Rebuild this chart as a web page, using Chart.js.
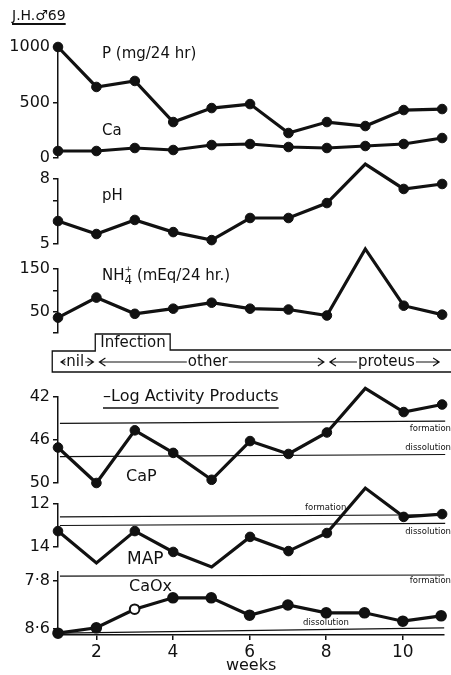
<!DOCTYPE html>
<html>
<head>
<meta charset="utf-8">
<script src="https://cdn.jsdelivr.net/npm/chart.js@4.4.0/dist/chart.umd.min.js"></script>
<style>
  html, body { margin: 0; padding: 0; background: #fff; }
  #wrap { position: relative; width: 451px; height: 675px; overflow: hidden; }
  canvas { position: absolute; left: 0; top: 0; }
  #title { position: absolute; left: 12px; top: 7px; font: 14px "DejaVu Sans"; color: #111;
           text-decoration: underline; text-decoration-thickness: 1.5px; text-underline-offset: 3px; }
</style>
</head>
<body>
<div id="wrap">
  <canvas id="cP" width="451" height="675"></canvas>
  <canvas id="cPH" width="451" height="675"></canvas>
  <canvas id="cNH" width="451" height="675"></canvas>
  <canvas id="cCaP" width="451" height="675"></canvas>
  <canvas id="cMAP" width="451" height="675"></canvas>
  <canvas id="cOx" width="451" height="675"></canvas>
  <div id="title">J.H.♂69</div>
</div>
<script>
// weeks of observation
var weeks = [1, 2, 3, 4, 5, 6, 7, 8, 9, 10, 11];

// urine values
var phosphorus = [1000, 640, 694, 324, 450, 486, 225, 324, 288, 432, 441];   // mg/24 hr
var calcium    = [63, 63, 90, 72, 117, 126, 99, 90, 108, 126, 180];
var urinePH    = [6.06, 5.46, 6.11, 5.55, 5.18, 6.2, 6.2, 6.89, 8.69, 7.54, 7.77];
var ammonium   = [36, 83, 45, 57, 71, 57, 55, 41, 197, 64, 43];              // mEq/24 hr

// -log activity products
var logCaP  = [46.7, 50.0, 45.1, 47.2, 49.7, 46.1, 47.3, 45.3, 41.2, 43.4, 42.7];
var logMAP  = [13.26, 14.74, 13.26, 14.23, 14.93, 13.53, 14.19, 13.35, 11.26, 12.6, 12.47];
var logCaOx = [8.67, 8.58, 8.27, 8.08, 8.08, 8.37, 8.2, 8.33, 8.33, 8.47, 8.38];

// formation / dissolution limits (left end, right end)
var capFormation   = [44.45, 44.25];
var capDissolution = [47.55, 47.35];
var mapFormation   = [12.6, 12.5];
var mapDissolution = [13.0, 12.9];
var oxFormation    = [7.72, 7.7];
var oxDissolution  = [8.67, 8.58];

// tick labels
var xTicks = [2, 4, 6, 8, 10];

var X_MIN = 1, X_MAX = 11.08;
var INK = '#111';
var FONT = '"DejaVu Sans"';

function pts(vals) {
  return weeks.map(function (w, i) { return { x: w, y: vals[i] }; });
}
function dataLine(vals, extra) {
  return Object.assign({
    data: pts(vals), borderColor: INK, borderWidth: 3.2, backgroundColor: INK,
    pointRadius: 4.8, pointBorderWidth: 1, pointBorderColor: INK,
    pointBackgroundColor: INK, tension: 0, clip: false
  }, extra || {});
}
function limitLine(pair) {
  return {
    data: [{ x: 1.05, y: pair[0] }, { x: X_MAX, y: pair[1] }],
    borderColor: INK, borderWidth: 1.2, pointRadius: 0, clip: false
  };
}

var notesPlugin = {
  id: 'notes',
  afterDraw: function (chart, args, opts) {
    var ctx = chart.ctx, cursor = 0;
    ctx.save();
    ctx.fillStyle = INK;
    ctx.strokeStyle = INK;
    ctx.textBaseline = 'middle';
    (opts.items || []).forEach(function (n) {
      ctx.font = (n.size || 15) + 'px ' + FONT;
      ctx.textAlign = n.align || 'left';
      var x = n.x === 'next' ? cursor : n.x;
      ctx.fillText(n.text, x, n.y);
      var w = ctx.measureText(n.text).width;
      if (!n.stay) cursor = x + w;
      if (n.underline) {
        ctx.lineWidth = 1.5;
        ctx.beginPath();
        ctx.moveTo(x, n.underline);
        ctx.lineTo(x + w, n.underline);
        ctx.stroke();
      }
    });
    ctx.restore();
  }
};

// infection bar between NH4 and activity panels
var infection = [
  { from: 1, to: 2, label: 'nil', at: 1.45 },
  { from: 2, to: 8, label: 'other', at: 4.9 },
  { from: 8, to: 11, label: 'proteus', at: 9.55 }
];
var infectionPlugin = {
  id: 'infection',
  afterDraw: function (chart) {
    var ctx = chart.ctx, sx = chart.scales.x;
    var px = function (w) { return sx.getPixelForValue(w); };
    ctx.save();
    ctx.strokeStyle = INK;
    ctx.fillStyle = INK;
    ctx.lineWidth = 1.3;
    var left = px(0.85), tabL = px(1.97), tabR = px(3.92), right = px(11.3);
    ctx.beginPath();
    ctx.moveTo(right, 350); ctx.lineTo(tabR, 350); ctx.lineTo(tabR, 334);
    ctx.lineTo(tabL, 334); ctx.lineTo(tabL, 351); ctx.lineTo(left, 351);
    ctx.lineTo(left, 372); ctx.lineTo(right, 372);
    ctx.stroke();
    ctx.font = '15px ' + FONT;
    ctx.textBaseline = 'middle';
    ctx.textAlign = 'left';
    ctx.fillText('Infection', tabL + 5, 343);

    var y = 362;
    infection.forEach(function (s) {
      var a = px(s.from) + 3, b = Math.min(px(s.to) - 3, 449);
      ctx.lineWidth = 1.2;
      ctx.beginPath();
      ctx.moveTo(a, y); ctx.lineTo(b, y);
      ctx.moveTo(a + 6, y - 4); ctx.lineTo(a, y); ctx.lineTo(a + 6, y + 4);
      ctx.moveTo(b - 6, y - 4); ctx.lineTo(b, y); ctx.lineTo(b - 6, y + 4);
      ctx.stroke();
      var c = px(s.at), w = ctx.measureText(s.label).width;
      ctx.fillStyle = '#fff';
      ctx.fillRect(c - w / 2 - 1, y - 8, w + 2, 16);
      ctx.fillStyle = INK;
      ctx.textAlign = 'center';
      ctx.fillText(s.label, c, y);
    });
    ctx.restore();
  }
};

function yAxis(min, max, reverse, tickVals, labelVals, fmt) {
  return {
    type: 'linear', min: min, max: max, reverse: reverse,
    afterFit: function (s) { s.width = 58; },
    afterBuildTicks: function (s) { s.ticks = tickVals.map(function (v) { return { value: v }; }); },
    ticks: {
      color: INK, padding: 3, autoSkip: false, font: { family: FONT, size: 16 },
      callback: function (v) {
        return labelVals.indexOf(v) >= 0 ? (fmt ? fmt(v) : String(v)) : '';
      }
    },
    grid: { drawOnChartArea: false, color: INK, lineWidth: 1.5, tickLength: 5 },
    border: { color: INK, width: 1.5 }
  };
}

function panel(id, top, bottom, y, datasets, notes, extraPlugins, showX) {
  var x = {
    type: 'linear', min: X_MIN, max: X_MAX, display: !!showX
  };
  if (showX) {
    Object.assign(x, {
      afterFit: function (s) { s.height = 40; },
      afterBuildTicks: function (s) { s.ticks = xTicks.map(function (v) { return { value: v }; }); },
      ticks: { color: INK, padding: 2, autoSkip: false, maxRotation: 0, font: { family: FONT, size: 17 } },
      grid: { drawOnChartArea: false, color: INK, lineWidth: 1.5, tickLength: 5 },
      border: { color: INK, width: 1.5 },
      title: { display: true, text: 'weeks', color: INK, padding: 0, font: { family: FONT, size: 16 } }
    });
  }
  return new Chart(document.getElementById(id), {
    type: 'line',
    data: { datasets: datasets },
    options: {
      responsive: false, animation: false, parsing: true,
      layout: { padding: { top: top, bottom: showX ? 0 : 675 - bottom, left: 0, right: 0 } },
      scales: { x: x, y: y },
      plugins: { legend: { display: false }, tooltip: { enabled: false }, notes: { items: notes } }
    },
    plugins: [notesPlugin].concat(extraPlugins || [])
  });
}

panel('cP', 47, 158, yAxis(0, 1000, false, [0, 500, 1000], [0, 500, 1000]),
  [dataLine(phosphorus), dataLine(calcium)],
  [{ text: 'P (mg/24 hr)', x: 102, y: 54 }, { text: 'Ca', x: 102, y: 131 }]);

panel('cPH', 179, 244, yAxis(5, 8, false, [5, 6, 7, 8], [5, 8]),
  [dataLine(urinePH)],
  [{ text: 'pH', x: 102, y: 196 }]);

panel('cNH', 269, 333, yAxis(0, 150, false, [0, 50, 100, 150], [50, 150]),
  [dataLine(ammonium)],
  [{ text: 'NH', x: 102, y: 276 },
   { text: '+', x: 'next', y: 270, size: 9, stay: true },
   { text: '4', x: 'next', y: 281, size: 12 },
   { text: ' (mEq/24 hr.)', x: 'next', y: 276 }],
  [infectionPlugin]);

panel('cCaP', 397, 483, yAxis(42, 50, true, [42, 46, 50], [42, 46, 50]),
  [dataLine(logCaP), limitLine(capFormation), limitLine(capDissolution)],
  [{ text: '\u2013Log Activity Products', x: 103, y: 397, size: 16, underline: 408 },
   { text: 'CaP', x: 126, y: 477, size: 16 },
   { text: 'formation', x: 451, y: 429, size: 8.5, align: 'right' },
   { text: 'dissolution', x: 451, y: 448, size: 8.5, align: 'right' }]);

panel('cMAP', 504, 547, yAxis(12, 14, true, [12, 14], [12, 14]),
  [dataLine(logMAP), limitLine(mapFormation), limitLine(mapDissolution)],
  [{ text: 'MAP', x: 127, y: 560, size: 17 },
   { text: 'formation', x: 305, y: 508, size: 8.5 },
   { text: 'dissolution', x: 451, y: 532, size: 8.5, align: 'right' }]);

panel('cOx', 572, 635,
  yAxis(7.65, 8.7, true, [7.8, 8.6], [7.8, 8.6], function (v) { return v.toFixed(1).replace('.', '\u00b7'); }),
  [dataLine(logCaOx, { pointBackgroundColor: logCaOx.map(function (v, i) { return i === 2 ? '#fff' : INK; }), pointBorderWidth: 2 }),
   limitLine(oxFormation), limitLine(oxDissolution)],
  [{ text: 'CaOx', x: 129, y: 587, size: 16 },
   { text: 'formation', x: 451, y: 581, size: 8.5, align: 'right' },
   { text: 'dissolution', x: 303, y: 623, size: 8.5 }],
  [], true);
</script>
</body>
</html>
